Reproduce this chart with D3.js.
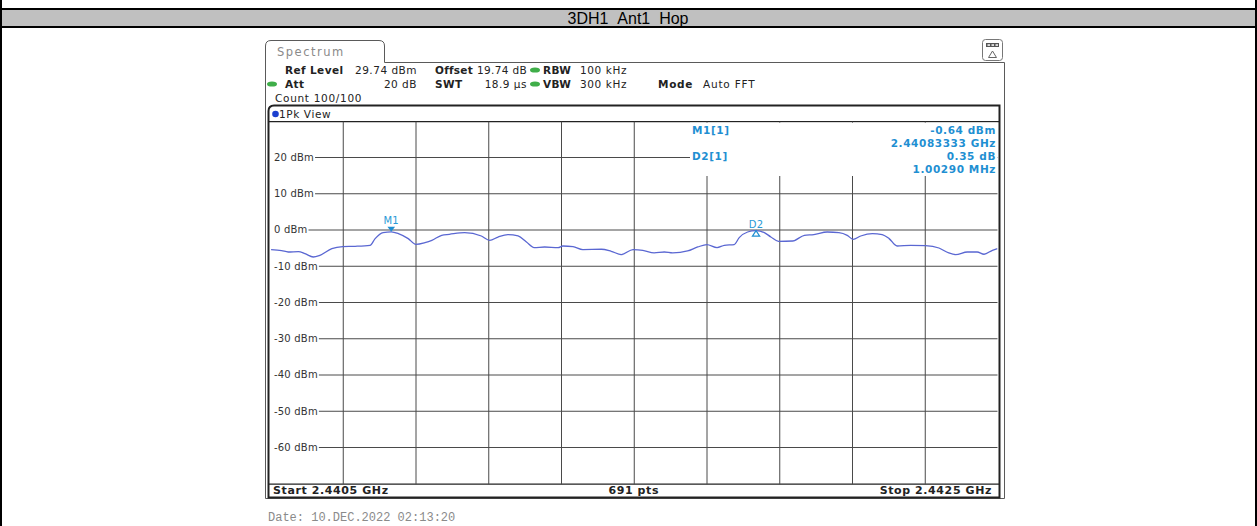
<!DOCTYPE html>
<html>
<head>
<meta charset="utf-8">
<script src="https://cdn.jsdelivr.net/npm/d3@7"></script>
<style>
  body { margin: 0; background: #fff; }
  svg { display: block; }
  .ui { font-family: "DejaVu Sans", Verdana, sans-serif; }
</style>
</head>
<body>
<svg id="chart" width="1257" height="526"></svg>
<script>
// ---- measurement settings ----
const pageTitle = "3DH1_Ant1_Hop";
const refLevel = 29.74;        // dBm, top of screen
const rangeDb = 100;           // 10 dB / div
const startMHz = 2440.5;
const stopMHz = 2442.5;
const sweepPoints = 691;
const yTickLevels = [20, 10, 0, -10, -20, -30, -40, -50, -60];

// ---- marker readout ----
const m1FreqMHz = 2440.83333;
const m1Level = -0.64;         // dBm
const d2DeltaMHz = 1.00290;
const d2DeltaDb = 0.35;

// ---- max-hold trace (frequency in MHz, level in dBm) ----
const traceFreq = [
  2440.503, 2440.532, 2440.550, 2440.578, 2440.596, 2440.619, 2440.637, 2440.670,
  2440.700, 2440.734, 2440.775, 2440.789, 2440.811, 2440.83333, 2440.853, 2440.880,
  2440.901, 2440.926, 2440.945, 2440.972, 2440.993, 2441.035, 2441.081, 2441.104,
  2441.127, 2441.154, 2441.182, 2441.205, 2441.226, 2441.255, 2441.292, 2441.305,
  2441.333, 2441.360, 2441.411, 2441.438, 2441.466, 2441.498, 2441.525, 2441.556,
  2441.584, 2441.607, 2441.648, 2441.676, 2441.701, 2441.729, 2441.749, 2441.776,
  2441.790, 2441.813, 2441.83623, 2441.859, 2441.877, 2441.898, 2441.937, 2441.969,
  2441.995, 2442.032, 2442.064, 2442.087, 2442.103, 2442.124, 2442.156, 2442.183,
  2442.202, 2442.224, 2442.261, 2442.302, 2442.339, 2442.366, 2442.385, 2442.417,
  2442.444, 2442.463, 2442.486, 2442.500
];
const traceLevel = [
  -5.54, -5.81, -6.20, -6.10, -6.64, -7.58, -7.11, -5.26,
  -4.71, -4.63, -4.35, -2.51, -0.85, -0.64, -1.13, -2.51,
  -4.08, -3.61, -2.98, -1.60, -1.32, -0.85, -1.79, -2.98,
  -2.07, -1.40, -1.79, -3.44, -4.99, -4.82, -4.99, -4.55,
  -4.71, -5.54, -5.45, -6.01, -6.91, -5.54, -5.73, -6.47,
  -6.20, -6.47, -5.92, -4.82, -4.16, -4.99, -4.35, -4.16,
  -2.23, -0.69, -0.29, -0.85, -2.07, -3.25, -3.17, -1.60,
  -1.40, -0.69, -0.85, -1.60, -2.70, -1.79, -1.13, -1.40,
  -2.51, -4.55, -4.35, -4.44, -5.10, -6.47, -6.91, -6.20,
  -6.20, -6.83, -5.73, -5.26
];

const svg = d3.select("#chart");
const BLUE = "#1f8fd2";
const TRACE = "#5a67d2";
const GRID = "#4a4a4a";

// ---- page frame and title bar ----
svg.append("rect").attr("x", 0).attr("y", 8).attr("width", 1257).attr("height", 20).attr("fill", "#000");
svg.append("rect").attr("x", 0).attr("y", 10).attr("width", 1257).attr("height", 16).attr("fill", "#c0c0c0");
svg.append("rect").attr("x", 0).attr("y", 0).attr("width", 2).attr("height", 526).attr("fill", "#000");
svg.append("rect").attr("x", 1255).attr("y", 0).attr("width", 2).attr("height", 526).attr("fill", "#000");
svg.append("text")
  .attr("x", 628).attr("y", 24)
  .attr("text-anchor", "middle")
  .style("font-family", "'Liberation Sans', Arial, sans-serif")
  .style("font-size", "16px")
  .attr("fill", "#000")
  .text(pageTitle);

// ---- instrument window ----
const win = svg.append("g").attr("class", "ui");

win.append("path")
  .attr("d", "M265.5,498.5 V46 Q265.5,40.5 271,40.5 H379 Q384.5,40.5 384.5,46 V62.5 H1004.5 V498.5 Z")
  .attr("fill", "#fff").attr("stroke", "#5a5a5a").attr("stroke-width", 1);

win.append("text").attr("x", 277).attr("y", 56)
  .style("font-size", "11.5px").style("letter-spacing", "1.5px")
  .attr("fill", "#8a8a8a").text("Spectrum");

// toolbar icon (top right)
const icon = win.append("g");
icon.append("rect").attr("x", 982.5).attr("y", 39.5).attr("width", 20).attr("height", 21).attr("rx", 3)
  .attr("fill", "#fff").attr("stroke", "#777");
icon.append("rect").attr("x", 986).attr("y", 43).attr("width", 13).attr("height", 4).attr("fill", "#555");
icon.selectAll("rect.dash").data([0, 1, 2]).join("rect").attr("class", "dash")
  .attr("x", d => 987.5 + d * 4).attr("y", 44.3).attr("width", 2.5).attr("height", 1.5).attr("fill", "#fff");
icon.append("path").attr("d", "M992.5,51 L988.5,57.5 H996.5 Z").attr("fill", "none").attr("stroke", "#666");

// setup readout
const setupStyle = (sel, bold, ls) => sel
  .style("font-size", "10.5px")
  .style("font-weight", bold ? "bold" : "normal")
  .style("letter-spacing", ls + "px")
  .attr("fill", "#222");

const setupItems = [
  { t: "Ref Level", x: 285, y: 74, b: true, ls: 0.4 },
  { t: refLevel.toFixed(2) + " dBm", x: 417, y: 74, a: "end", ls: 0.5 },
  { t: "Offset", x: 435, y: 74, b: true, ls: 0.25 },
  { t: "19.74 dB", x: 527, y: 74, a: "end", ls: 0.35 },
  { t: "RBW", x: 543, y: 74, b: true, ls: 0.4 },
  { t: "100 kHz", x: 580, y: 74, ls: 0.6 },
  { t: "Att", x: 285, y: 88, b: true, ls: 0.4 },
  { t: "20 dB", x: 417, y: 88, a: "end", ls: 0.5 },
  { t: "SWT", x: 435, y: 88, b: true, ls: 0.4 },
  { t: "18.9 µs", x: 527, y: 88, a: "end", ls: 0.5 },
  { t: "VBW", x: 543, y: 88, b: true, ls: 0.4 },
  { t: "300 kHz", x: 580, y: 88, ls: 0.6 },
  { t: "Mode", x: 658, y: 88, b: true, ls: 0.7 },
  { t: "Auto FFT", x: 703, y: 88, ls: 0.8 },
  { t: "Count 100/100", x: 275, y: 102, ls: 0.7 }
];
setupItems.forEach(d => {
  win.append("text").attr("x", d.x).attr("y", d.y)
    .attr("text-anchor", d.a || "start")
    .call(setupStyle, d.b, d.ls).text(d.t);
});
[[535, 70], [272, 84], [535, 84]].forEach(([cx, cy]) => {
  win.append("ellipse").attr("cx", cx).attr("cy", cy).attr("rx", 5).attr("ry", 2.6).attr("fill", "#3fae49");
});

// ---- diagram area ----
const X0 = 270, X1 = 997.5, YT = 121.7, YB = 484.2;
const x = d3.scaleLinear().domain([startMHz, stopMHz]).range([X0, X1]);
const y = d3.scaleLinear().domain([refLevel - rangeDb, refLevel]).range([YB, YT]);

win.append("path")
  .attr("d", `M268.5,497.5 V111 Q268.5,105.5 274,105.5 H999.5 V497.5 Z`)
  .attr("fill", "#fff").attr("stroke", "#222").attr("stroke-width", 2);
win.append("line").attr("x1", 269).attr("x2", 999).attr("y1", YT).attr("y2", YT).attr("stroke", "#222").attr("stroke-width", 1.2);
win.append("line").attr("x1", 269).attr("x2", 999).attr("y1", YB).attr("y2", YB).attr("stroke", "#222").attr("stroke-width", 1.2);

win.append("circle").attr("cx", 275.5).attr("cy", 114).attr("r", 3.3).attr("fill", "#1c3fcf");
win.append("text").attr("x", 279).attr("y", 118)
  .style("font-size", "10.5px").style("letter-spacing", "0.6px").attr("fill", "#222").text("1Pk View");

// vertical grid: 10 divisions across the span
const gridFreqs = d3.range(1, 10).map(i => startMHz + i * (stopMHz - startMHz) / 10);
const vGrid = win.append("g").attr("transform", `translate(0,${YB})`)
  .call(d3.axisBottom(x).tickValues(gridFreqs).tickSize(-(YB - YT)).tickFormat(""));
vGrid.select(".domain").remove();
vGrid.selectAll("line").attr("stroke", GRID).attr("stroke-width", 1);

// horizontal grid: 10 dB per division
const hGrid = win.append("g").attr("transform", `translate(${X0},0)`)
  .call(d3.axisRight(y).tickValues(yTickLevels).tickSize(X1 - X0).tickFormat(""));
hGrid.select(".domain").remove();
hGrid.selectAll("line").attr("stroke", GRID).attr("stroke-width", 1);

// level labels sitting on the grid lines
yTickLevels.forEach(v => {
  const g = win.append("g");
  const bg = g.append("rect").attr("fill", "#fff");
  const t = g.append("text").attr("x", 274).attr("y", y(v) + 3.8)
    .style("font-size", "10px").style("letter-spacing", "0.2px").attr("fill", "#333")
    .text(v + " dBm");
  const bb = t.node().getBBox();
  bg.attr("x", X0).attr("y", y(v) - 5).attr("width", bb.x + bb.width + 1 - X0).attr("height", 10);
});

// ---- marker table ----
win.append("rect").attr("x", 690).attr("y", YT + 1).attr("width", X1 - 690).attr("height", 176 - YT - 1).attr("fill", "#fff");
const tbl = (t, xx, yy, anchor) => win.append("text").attr("x", xx).attr("y", yy)
  .attr("text-anchor", anchor).style("font-size", "10.5px").style("font-weight", "bold")
  .style("letter-spacing", "0.6px").attr("fill", BLUE).text(t);
tbl("M1[1]", 692, 134, "start");
tbl(m1Level.toFixed(2) + " dBm", 996, 134, "end");
tbl((m1FreqMHz / 1000).toFixed(8) + " GHz", 996, 147, "end");
tbl("D2[1]", 692, 160, "start");
tbl(d2DeltaDb.toFixed(2) + " dB", 996, 160, "end");
tbl(d2DeltaMHz.toFixed(5) + " MHz", 996, 173, "end");

// ---- trace ----
svg.append("clipPath").attr("id", "plotClip").append("rect")
  .attr("x", X0).attr("y", YT).attr("width", X1 - X0).attr("height", YB - YT);
const line = d3.line().x(d => x(d[0])).y(d => y(d[1])).curve(d3.curveMonotoneX);
win.append("path")
  .datum(d3.zip(traceFreq, traceLevel))
  .attr("clip-path", "url(#plotClip)")
  .attr("d", line)
  .attr("fill", "none").attr("stroke", TRACE).attr("stroke-width", 1.3);

// ---- markers on the trace ----
const mk = [
  { name: "M1", f: m1FreqMHz, l: m1Level, delta: false },
  { name: "D2", f: m1FreqMHz + d2DeltaMHz, l: m1Level + d2DeltaDb, delta: true }
];
mk.forEach(m => {
  const px = x(m.f), py = y(m.l);
  if (m.delta) {
    win.append("path").attr("d", `M${px},${py} L${px - 3.6},${py + 5.5} H${px + 3.6} Z`)
      .attr("fill", "none").attr("stroke", BLUE).attr("stroke-width", 1.2);
    win.append("text").attr("x", px).attr("y", py - 3).attr("text-anchor", "middle")
      .style("font-size", "10px").style("letter-spacing", "0.3px").attr("fill", "#2a9ad6").text(m.name);
  } else {
    win.append("path").attr("d", `M${px},${py} L${px - 3.8},${py - 5} H${px + 3.8} Z`)
      .attr("fill", BLUE);
    win.append("text").attr("x", px).attr("y", py - 8).attr("text-anchor", "middle")
      .style("font-size", "10px").style("letter-spacing", "0.3px").attr("fill", "#2a9ad6").text(m.name);
  }
});

// ---- footer ----
const foot = (t, xx, anchor) => win.append("text").attr("x", xx).attr("y", 494)
  .attr("text-anchor", anchor).style("font-size", "11px").style("font-weight", "bold")
  .style("letter-spacing", "0.6px").attr("fill", "#222").text(t);
foot("Start " + (startMHz / 1000).toFixed(4) + " GHz", 273, "start");
foot(sweepPoints + " pts", (X0 + X1) / 2, "middle");
foot("Stop " + (stopMHz / 1000).toFixed(4) + " GHz", 992, "end");

svg.append("text").attr("x", 268).attr("y", 521)
  .style("font-family", "'Liberation Mono', 'DejaVu Sans Mono', monospace")
  .style("font-size", "12px").attr("fill", "#8a8a8a")
  .text("Date: 10.DEC.2022  02:13:20");
</script>
</body>
</html>
